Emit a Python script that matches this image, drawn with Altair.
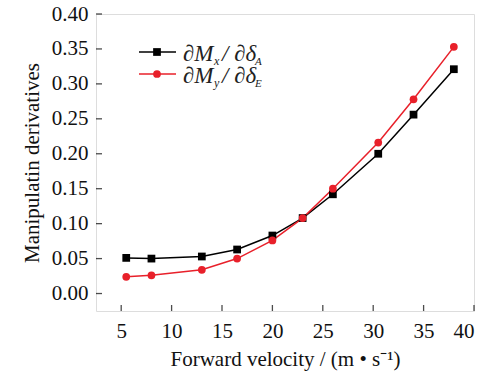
import altair as alt
import pandas as pd

velocity = [5.5, 8, 13, 16.5, 20, 23, 26, 30.5, 34, 38]
dMx_dA = [0.051, 0.050, 0.053, 0.063, 0.083, 0.108, 0.142, 0.200, 0.256, 0.321]
dMy_dE = [0.024, 0.026, 0.034, 0.050, 0.076, 0.108, 0.150, 0.216, 0.278, 0.353]
series = ["dMx/ddA", "dMy/ddE"]
colors = ["#000000", "#e8202a"]
shapes = ["square", "circle"]
x_ticks = [5, 10, 15, 20, 25, 30, 35, 40]
y_ticks = [0.0, 0.05, 0.10, 0.15, 0.20, 0.25, 0.30, 0.35, 0.40]

rows = []
for v, a in zip(velocity, dMx_dA):
    rows.append({"v": v, "d": a, "s": series[0]})
for v, e in zip(velocity, dMy_dE):
    rows.append({"v": v, "d": e, "s": series[1]})
df = pd.DataFrame(rows)

W, H = 378, 297
FONT = "Liberation Serif"
xs = alt.Scale(domain=[2.5, 40], nice=False, zero=False)
ys = alt.Scale(domain=[-0.025, 0.40], nice=False, zero=False)
cs = alt.Scale(domain=series, range=colors)
ss = alt.Scale(domain=series, range=shapes)

xaxis = alt.Axis(values=x_ticks, tickSize=0, domain=False, grid=False, labelOverlap=False,
                 labelFont=FONT, labelFontSize=21, labelColor="#111", labelPadding=9,
                 title="Forward velocity / (m • s⁻¹)", titleFont=FONT, titleFontSize=21,
                 titleFontWeight="normal", titleColor="#111", titlePadding=7)
yaxis = alt.Axis(values=y_ticks, format=".2f", tickSize=0, domain=False, grid=False, labelOverlap=False,
                 labelFont=FONT, labelFontSize=21, labelColor="#111", labelPadding=8,
                 title="Manipulatin derivatives", titleFont=FONT, titleFontSize=21,
                 titleFontWeight="normal", titleColor="#111", titlePadding=9)

X = alt.X("v:Q", scale=xs, axis=xaxis)
Y = alt.Y("d:Q", scale=ys, axis=yaxis)

base = alt.Chart(df)
lines = base.mark_line(strokeWidth=1.5).encode(
    x=X, y=Y,
    color=alt.Color("s:N", scale=cs, legend=None),
    detail="s:N",
)
points = base.mark_point(filled=True, size=60, opacity=1).encode(
    x=X, y=Y,
    color=alt.Color("s:N", scale=cs, legend=None),
    shape=alt.Shape("s:N", scale=ss, legend=None),
    order=alt.Order("s:N"),
)

xt = alt.Chart(pd.DataFrame({"v": x_ticks})).mark_tick(
    orient="vertical", size=6, thickness=1.3, color="black").encode(
    x=X, y=alt.value(H - 3))
yt = alt.Chart(pd.DataFrame({"d": y_ticks})).mark_tick(
    orient="horizontal", size=6, thickness=1.3, color="black").encode(
    y=Y, x=alt.value(3))

dummy = alt.Chart(pd.DataFrame({"a": [0]}))
legend_layers = []
row_y = [38, 60]
base_y = [47, 69]
subs = [("x", "A"), ("y", "E")]
for i in range(2):
    legend_layers.append(dummy.mark_rule(color=colors[i], strokeWidth=1.5).encode(
        x=alt.value(43), x2=alt.value(80), y=alt.value(row_y[i])))
    legend_layers.append(dummy.mark_point(shape=shapes[i], filled=True, size=60,
                                          color=colors[i], opacity=1).encode(
        x=alt.value(61), y=alt.value(row_y[i])))
    legend_layers.append(dummy.mark_text(text="∂M", font=FONT, fontSize=23, fontStyle="italic",
                                         align="left", baseline="alphabetic", color="#222").encode(
        x=alt.value(87), y=alt.value(base_y[i])))
    legend_layers.append(dummy.mark_text(text=subs[i][0], font=FONT, fontSize=12, fontStyle="italic",
                                         align="left", baseline="alphabetic", color="#222").encode(
        x=alt.value(118), y=alt.value(base_y[i] + 4)))
    legend_layers.append(dummy.mark_text(text="/ ∂δ", font=FONT, fontSize=23, fontStyle="italic",
                                         align="left", baseline="alphabetic", color="#222").encode(
        x=alt.value(126), y=alt.value(base_y[i])))
    legend_layers.append(dummy.mark_text(text=subs[i][1], font=FONT, fontSize=11, fontStyle="italic",
                                         align="left", baseline="alphabetic", color="#222").encode(
        x=alt.value(159), y=alt.value(base_y[i] + 4)))

chart = alt.layer(lines, points, xt, yt, *legend_layers).properties(
    width=W, height=H,
    autosize=alt.AutoSizeParams(type="none"),
    padding={"left": 96, "top": 14, "right": 27, "bottom": 61},
).configure_view(stroke="black", strokeWidth=1.5).configure(background="white")

chart.save("out.html", embed_options={"renderer": "svg", "actions": False})
